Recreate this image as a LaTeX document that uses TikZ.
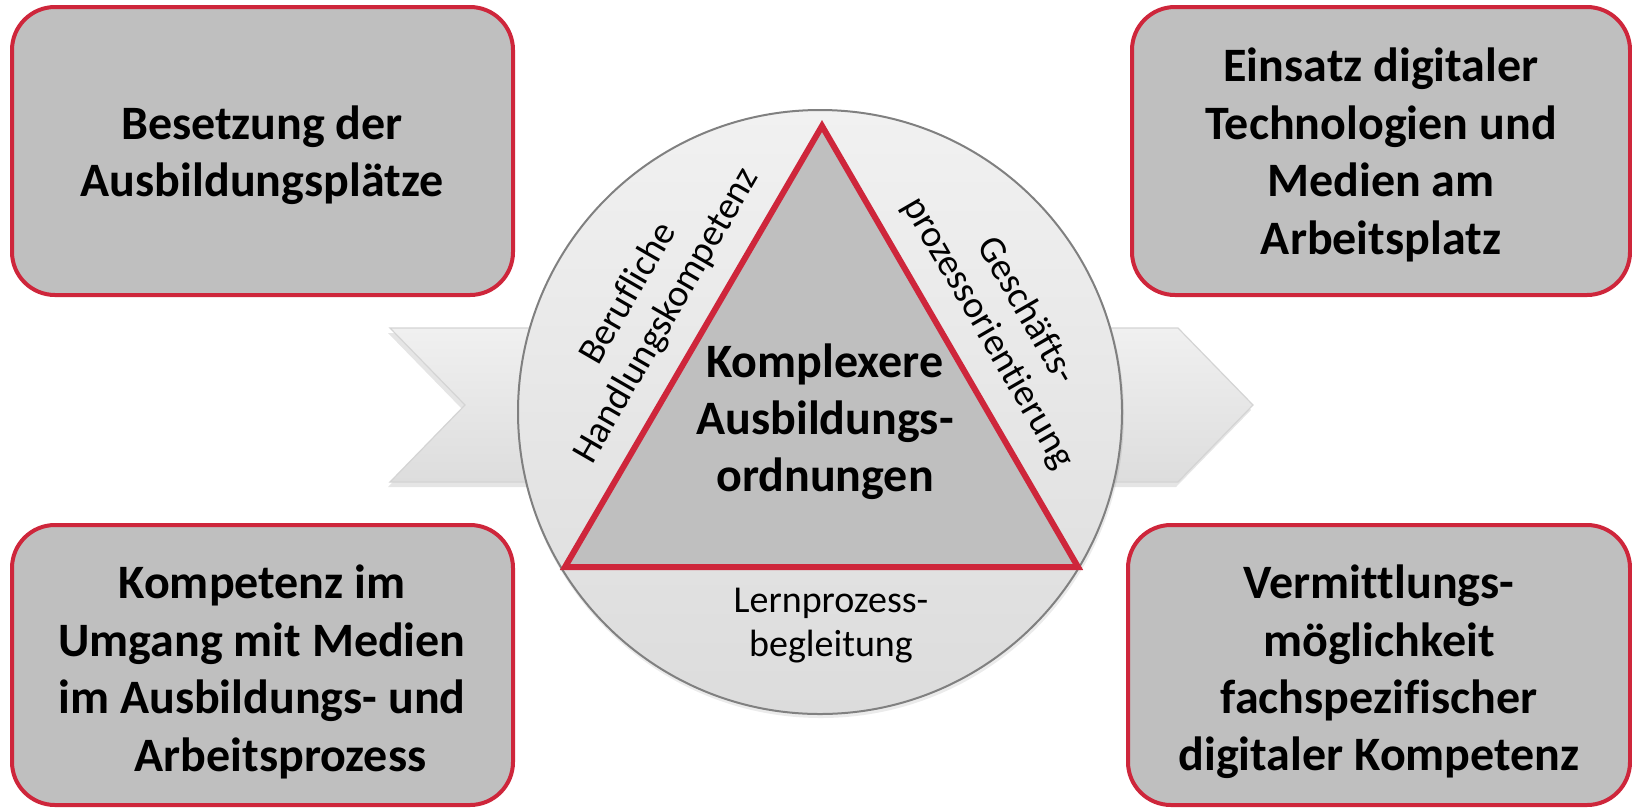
\documentclass[tikz,border=0pt]{standalone}
\usepackage{fontspec}
\setmainfont{Carlito}[Ligatures=CommonOff]
\definecolor{redc}{RGB}{206,38,59}
\definecolor{boxg}{RGB}{191,191,191}
\definecolor{bandtop}{RGB}{240,240,240}
\definecolor{bandbot}{RGB}{221,221,221}
\definecolor{bandedge}{RGB}{212,212,212}
\definecolor{circtop}{RGB}{241,241,241}
\definecolor{circbot}{RGB}{220,220,220}
\definecolor{circedge}{RGB}{128,128,128}
\begin{document}
\begin{tikzpicture}[x=0.5pt,y=-0.5pt,
  infobox/.style={draw=redc, line width=2pt, fill=boxg, rounded corners=21.5pt, inner sep=0pt},
  boxtext/.style={align=center, font=\fontsize{24}{28.7}\selectfont\bfseries, inner sep=0pt},
  sidetext/.style={align=center, font=\fontsize{19}{22}\selectfont, inner sep=0pt},
  centertext/.style={align=center, font=\fontsize{24}{28.5}\selectfont\bfseries, inner sep=0pt},
  band/.style={top color=bandtop, bottom color=bandbot, draw=bandedge, line width=0.6pt},
  bandshadow/.style={fill=black, opacity=0.10},
  tri/.style={draw=redc, line width=3pt, fill=boxg, line join=miter}]
\useasboundingbox (0,0) rectangle (1632,810);

% band arrow
\coordinate (a1) at (390,328);
\coordinate (a2) at (1178,328);
\coordinate (a3) at (1253,405);
\coordinate (a4) at (1178,482);
\coordinate (a5) at (390,482);
\coordinate (a6) at (465,405);
\fill[bandshadow] ([shift={(-2,5)}]a1) -- ([shift={(-2,5)}]a2) -- ([shift={(-2,5)}]a3) -- ([shift={(-2,5)}]a4) -- ([shift={(-2,5)}]a5) -- ([shift={(-2,5)}]a6) -- cycle;
\path[band] (a1) -- (a2) -- (a3) -- (a4) -- (a5) -- (a6) -- cycle;

% circle
\fill[black, opacity=0.08] (821,415) circle (303);
\node[circle, minimum size=302pt, inner sep=0pt, draw=circedge, line width=1pt,
      top color=circtop, bottom color=circbot] (circ) at (820,412) {};

% triangle
\coordinate (tA) at (822,126);
\coordinate (tB) at (565,567);
\coordinate (tC) at (1078,567);
\draw[tri] (tA) -- (tB) -- (tC) -- cycle;

% texts in circle
\node[centertext] (ctext) at (825,421.5) {Komplexere\\Ausbildungs-\\ordnungen};
\node[sidetext, rotate=60] (ltext) at (648,305) {Berufliche\\Handlungskompetenz};
\node[sidetext, rotate=-60] (rtext) at (1007,322) {Gesch\"afts-\\prozessorientierung};
\node[sidetext] (btext) at (831,625.5) {Lernprozess-\\begleitung};

% corner boxes
\node[infobox, minimum width=250.5pt, minimum height=144pt] (b1) at (262.5,151) {};
\node[infobox, minimum width=249pt, minimum height=144pt] (b2) at (1381,151) {};
\node[infobox, minimum width=250.5pt, minimum height=140pt] (b3) at (262.5,665) {};
\node[infobox, minimum width=251pt, minimum height=140pt] (b4) at (1379,665) {};

\node[boxtext] (t1) at (262,155) {Besetzung der\\Ausbildungspl\"atze};
\node[boxtext] (t2) at (1381,155) {Einsatz digitaler\\Technologien und\\Medien am\\Arbeitsplatz};
\node[boxtext] (t3) at (262,672) {Kompetenz im\\Umgang mit Medien\\im Ausbildungs- und\\\hspace*{18.5pt}Arbeitsprozess};
\node[boxtext] (t4) at (1379,672) {Vermittlungs-\\m\"oglichkeit\\fachspezifischer\\digitaler Kompetenz};
\end{tikzpicture}
\end{document}
